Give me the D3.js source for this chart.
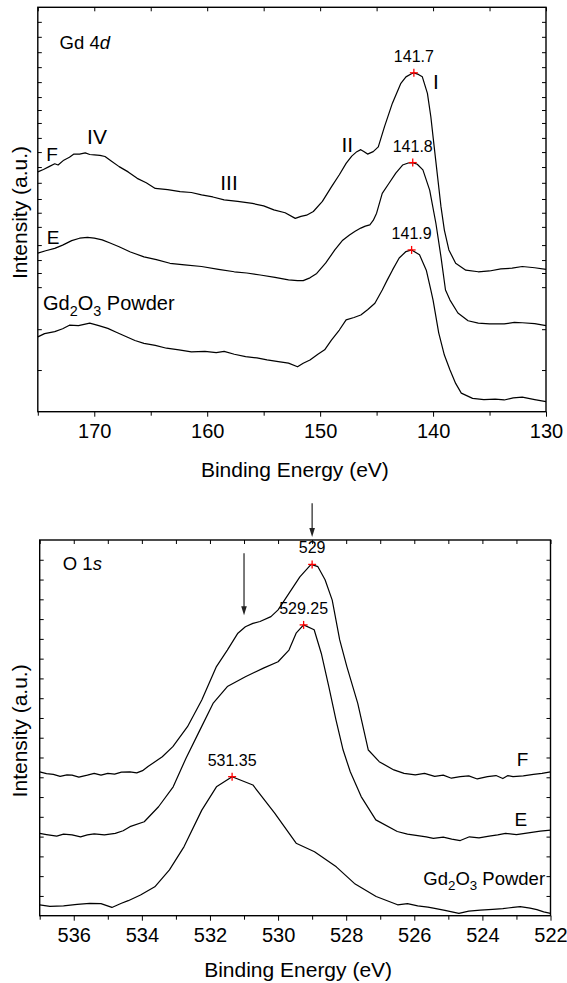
<!DOCTYPE html>
<html><head><meta charset="utf-8">
<script src="https://cdn.jsdelivr.net/npm/d3@7/dist/d3.min.js"></script>
<style>body{margin:0;background:#fff}svg{display:block}</style>
</head><body>
<script>
// ---------- Gd 4d panel data: [binding energy (eV), intensity (a.u.)] ----------
const gd4dF = [[175.0,59.3],[174.5,59.9],[174.0,60.6],[173.5,61.3],[173.2,61.0],[172.7,62.2],[172.2,62.9],[171.8,63.7],[171.3,63.7],[170.8,64.0],[170.4,63.6],[170.0,63.5],[169.5,63.4],[169.05,63.1],[168.5,62.0],[167.8,60.6],[167.0,59.3],[166.2,57.7],[165.4,56.6],[164.6,55.2],[163.5,54.9],[162.4,54.4],[161.4,54.2],[160.5,53.6],[159.5,53.1],[158.5,52.4],[157.3,52.0],[156.0,51.5],[155.0,50.9],[154.1,49.9],[153.1,49.2],[152.2,47.8],[151.7,48.3],[151.2,48.6],[150.6,49.5],[149.8,52.0],[149.0,55.6],[148.3,58.6],[147.7,61.4],[147.2,63.2],[146.75,64.3],[146.4,64.8],[146.1,64.3],[145.8,63.7],[145.3,64.3],[144.85,65.5],[144.3,70.5],[143.6,76.3],[142.85,81.2],[142.4,82.8],[141.95,83.5],[141.7,83.8],[141.3,83.4],[140.95,82.8],[140.5,78.7],[140.2,73.0],[139.9,65.5],[139.6,58.1],[139.3,50.7],[139.0,44.9],[138.6,40.0],[138.0,36.7],[137.1,35.0],[136.0,34.6],[135.0,34.8],[134.0,35.3],[133.0,35.5],[132.1,35.9],[131.0,35.6],[130.0,35.2]];
const gd4dE = [[175.0,39.2],[174.3,39.8],[173.5,40.4],[172.8,41.2],[172.0,42.3],[171.3,42.9],[170.6,43.1],[170.0,42.9],[169.3,42.5],[168.6,41.7],[167.8,40.8],[166.8,39.5],[165.6,38.3],[164.5,37.6],[163.3,36.7],[162.0,36.3],[160.5,35.9],[159.0,35.2],[157.6,34.6],[156.5,34.3],[155.3,33.8],[154.0,33.2],[152.8,32.6],[152.0,32.4],[151.5,32.4],[150.9,33.1],[150.3,34.2],[149.5,36.8],[148.7,40.0],[148.0,42.4],[147.4,43.7],[146.9,44.6],[146.4,45.4],[146.0,45.9],[145.6,46.2],[145.3,47.3],[145.0,49.1],[144.5,54.0],[143.9,56.5],[143.3,59.0],[142.7,61.0],[142.2,61.5],[141.8,61.6],[141.4,61.2],[140.9,59.8],[140.3,54.8],[139.75,46.6],[139.3,38.3],[138.9,30.1],[138.5,27.6],[137.8,24.4],[136.9,22.5],[136.0,21.9],[135.0,21.7],[133.7,21.7],[132.8,22.1],[132.1,22.0],[131.0,21.8],[130.0,21.3]];
const gd4dPowder = [[175.0,18.5],[174.4,19.3],[173.5,19.8],[172.8,20.5],[172.2,21.4],[171.4,21.3],[170.4,21.9],[169.6,21.3],[168.8,20.6],[168.0,19.6],[167.2,18.6],[166.4,17.6],[165.6,16.9],[164.6,16.4],[163.6,15.7],[162.5,15.3],[161.4,14.8],[160.2,14.9],[159.2,14.6],[158.5,14.9],[157.6,14.2],[156.6,13.6],[155.6,13.3],[154.7,12.8],[153.7,12.4],[152.8,12.0],[152.0,11.1],[151.5,12.0],[150.9,12.8],[150.2,14.2],[149.6,15.3],[149.0,17.7],[148.3,20.2],[147.7,22.7],[147.0,23.3],[146.4,23.9],[145.8,25.2],[145.15,26.8],[144.5,30.1],[144.05,32.6],[143.6,35.0],[143.0,38.0],[142.4,39.6],[141.9,40.0],[141.2,38.8],[140.6,35.0],[140.2,30.1],[140.0,27.6],[139.5,19.5],[139.0,14.0],[138.5,10.3],[138.0,7.0],[137.5,4.6],[136.5,3.3],[135.5,3.0],[134.5,3.1],[133.7,2.9],[132.9,3.4],[132.1,3.6],[131.0,3.0],[130.0,2.5]];
const gd4dPeakE = [141.7, 141.8, 141.9];
const gd4dPeakI = [83.8, 61.6, 40.0];
const gd4dPeakLabels = ["141.7", "141.8", "141.9"];
const gd4dXMajor = [170, 160, 150, 140, 130];
const gd4dXMinor = [175, 165, 155, 145, 135];
const gd4dYTicks = [10.3, 20.4, 30.8, 34.3, 37.5, 41.2, 45.7, 49.2, 52.6, 56.6, 60.5, 64.2, 67.7, 71.4, 74.6, 77.8, 81.5, 85.2, 88.9, 92.7, 96.4];

// ---------- O 1s panel data ----------
const o1sF = [[537.0,38.3],[536.8,37.8],[536.6,37.6],[536.4,37.1],[536.2,37.5],[536.05,37.4],[535.85,36.9],[535.6,37.4],[535.4,37.9],[535.2,37.4],[535.0,37.9],[534.8,37.7],[534.6,38.2],[534.35,38.3],[534.15,38.0],[533.98,38.6],[533.82,39.7],[533.4,42.3],[533.09,45.0],[532.66,50.3],[532.24,57.4],[531.81,66.3],[531.49,70.7],[531.18,75.2],[530.96,76.9],[530.74,77.8],[530.53,78.3],[530.21,79.6],[530.0,81.4],[529.68,85.8],[529.36,90.2],[529.03,93.5],[528.83,92.9],[528.62,89.4],[528.41,84.0],[528.19,73.4],[527.98,66.3],[527.66,56.5],[527.35,44.1],[527.03,41.0],[526.6,38.8],[526.3,37.9],[525.97,37.5],[525.7,37.9],[525.4,37.1],[525.15,37.4],[524.91,36.6],[524.65,37.0],[524.4,37.2],[524.15,36.4],[523.85,37.0],[523.6,37.3],[523.4,36.5],[523.25,37.3],[523.1,37.0],[522.8,37.2],[522.5,37.6],[522.25,37.9],[522.0,38.3]];
const o1sE = [[537.0,21.9],[536.8,21.6],[536.5,21.2],[536.3,21.7],[536.05,21.5],[535.8,21.0],[535.6,21.5],[535.4,21.8],[535.1,21.5],[534.78,21.9],[534.55,22.6],[534.35,23.7],[533.93,25.0],[533.51,29.0],[533.08,34.3],[532.7,42.0],[532.34,48.6],[531.91,56.5],[531.49,61.0],[530.96,63.6],[530.43,65.9],[530.0,67.6],[529.68,70.7],[529.47,75.2],[529.25,77.4],[528.94,76.1],[528.73,69.8],[528.51,61.0],[528.3,52.1],[528.09,44.1],[527.88,38.3],[527.56,31.7],[527.13,25.5],[526.5,22.4],[526.2,21.7],[525.9,21.3],[525.65,21.0],[525.44,20.6],[525.15,20.9],[524.9,20.4],[524.65,20.0],[524.38,21.0],[524.1,20.7],[523.8,21.2],[523.55,21.5],[523.32,21.9],[523.0,21.6],[522.6,22.1],[522.3,22.5],[522.0,22.8]];
const o1sPowder = [[537.0,2.9],[536.7,2.5],[536.3,2.6],[535.9,3.0],[535.53,3.3],[535.2,3.2],[534.88,2.2],[534.6,3.3],[534.4,4.0],[534.04,5.5],[533.62,7.7],[533.19,12.2],[532.76,18.4],[532.24,28.1],[531.81,34.3],[531.35,37.0],[530.74,34.8],[530.1,27.3],[529.47,19.3],[528.93,17.0],[528.29,13.0],[527.76,8.6],[527.12,5.1],[526.49,2.9],[526.2,3.2],[525.9,2.6],[525.6,2.3],[525.44,2.0],[525.1,1.4],[524.69,0.6],[524.4,1.2],[524.06,1.5],[523.7,1.7],[523.4,1.9],[523.1,2.2],[522.89,2.4],[522.6,2.0],[522.4,1.6],[522.2,1.0],[522.0,0.6]];
const o1sPeakE = [529.0, 529.25, 531.35];
const o1sPeakI = [93.5, 77.4, 37.0];
const o1sPeakLabels = ["529", "529.25", "531.35"];
const o1sArrowE = [529.0, 531.0];
const o1sArrowFromI = [109.8, 96.5];
const o1sArrowToI = [100.8, 80.0];
const o1sXMajor = [536, 534, 532, 530, 528, 526, 524, 522];
const o1sXMinor = [537, 535, 533, 531, 529, 527, 525, 523];
const o1sYTicks = [5.26, 10.53, 15.79, 21.05, 26.32, 31.58, 36.84, 42.11, 47.37, 52.63, 57.89, 63.16, 68.42, 73.68, 78.95, 84.21, 89.47, 94.74];

// ---------- drawing ----------
const FONT = "Arial, 'Liberation Sans', Helvetica, sans-serif";
const svg = d3.select("body").append("svg").attr("width", 567).attr("height", 983)
  .style("font-family", FONT);

function txt(g, x, y, s, size, anchor) {
  return g.append("text").attr("x", x).attr("y", y).attr("font-size", size)
    .attr("text-anchor", anchor || "middle").attr("fill", "#000").text(s);
}
function gdo(g, x, y, size, anchor) {
  const t = g.append("text").attr("x", x).attr("y", y).attr("font-size", size)
    .attr("text-anchor", anchor || "start").attr("fill", "#000");
  t.append("tspan").text("Gd");
  t.append("tspan").attr("font-size", size * 0.72).attr("dy", size * 0.3).text("2");
  t.append("tspan").attr("dy", -size * 0.3).text("O");
  t.append("tspan").attr("font-size", size * 0.72).attr("dy", size * 0.3).text("3");
  t.append("tspan").attr("dy", -size * 0.3).text(" Powder");
  return t;
}

function drawPanel(opt) {
  const x = d3.scaleLinear().domain(opt.xDomain).range([opt.L, opt.R]);
  const y = d3.scaleLinear().domain([0, 100]).range([opt.B, opt.T]);
  const g = svg.append("g");
  const line = d3.line().x(d => x(d[0])).y(d => y(d[1]));
  opt.series.forEach(s => {
    g.append("path").datum(s).attr("d", line).attr("fill", "none")
      .attr("stroke", "#000").attr("stroke-width", 1.2).attr("stroke-linejoin", "round");
  });
  const fmt = d3.format("d");
  const bx = g.append("g").attr("transform", `translate(0,${opt.B})`)
    .call(d3.axisBottom(x).tickValues(opt.xMajor).tickSize(5).tickPadding(7).tickFormat(fmt));
  bx.selectAll("text").attr("font-size", 20).attr("font-family", FONT).attr("fill", "#000");
  const bxm = g.append("g").attr("transform", `translate(0,${opt.B})`)
    .call(d3.axisBottom(x).tickValues(opt.xMinor).tickSize(4).tickFormat(""));
  const tx = g.append("g").attr("transform", `translate(0,${opt.T})`)
    .call(d3.axisBottom(x).tickValues(opt.xMajor.concat(opt.xMinor)).tickSize(4).tickFormat(""));
  const ly = g.append("g").attr("transform", `translate(${opt.L},0)`)
    .call(d3.axisRight(y).tickValues(opt.yTicks).tickSize(4).tickFormat(""));
  const ry = g.append("g").attr("transform", `translate(${opt.R},0)`)
    .call(d3.axisLeft(y).tickValues(opt.yTicks).tickSize(4).tickFormat(""));
  [bx, bxm, tx, ly, ry].forEach(a => {
    a.select(".domain").remove();
    a.selectAll("line").attr("stroke", "#000").attr("stroke-width", 1);
  });
  g.append("rect").attr("x", opt.L).attr("y", opt.T).attr("width", opt.R - opt.L)
    .attr("height", opt.B - opt.T).attr("fill", "none").attr("stroke", "#000").attr("stroke-width", 1.4);
  txt(g, (opt.L + opt.R) / 2 + 3, opt.titleY, "Binding Energy (eV)", 21);
  g.append("text").attr("transform", `translate(27,${(opt.T + opt.B) / 2 + 3}) rotate(-90)`)
    .attr("text-anchor", "middle").attr("font-size", 21).attr("fill", "#000").text("Intensity (a.u.)");
  opt.peakE.forEach((e, i) => {
    const px = x(e), py = y(opt.peakI[i]);
    g.append("line").attr("x1", px - 4).attr("x2", px + 4).attr("y1", py).attr("y2", py)
      .attr("stroke", "#ff0000").attr("stroke-width", 1.3);
    g.append("line").attr("x1", px).attr("x2", px).attr("y1", py - 4).attr("y2", py + 4)
      .attr("stroke", "#ff0000").attr("stroke-width", 1.3);
    txt(g, px, py - 11, opt.peakLabels[i], 16);
  });
  return { g, x, y };
}

// Panel 1: Gd 4d
const p1 = drawPanel({
  xDomain: [175, 130], L: 37.8, R: 546, T: 7.3, B: 411.7, titleY: 477,
  series: [gd4dF, gd4dE, gd4dPowder], xMajor: gd4dXMajor, xMinor: gd4dXMinor, yTicks: gd4dYTicks,
  peakE: gd4dPeakE, peakI: gd4dPeakI, peakLabels: gd4dPeakLabels
});
{
  const { g, x, y } = p1;
  const t = g.append("text").attr("x", x(173.07)).attr("y", y(89.7)).attr("font-size", 18.5).attr("fill", "#000");
  t.append("tspan").text("Gd 4");
  t.append("tspan").attr("font-style", "italic").text("d");
  txt(g, x(139.74), y(79.7), "I", 21);
  txt(g, x(147.6), y(64.3), "II", 21);
  txt(g, x(158.07), y(54.9), "III", 21);
  txt(g, x(169.76), y(66.3), "IV", 21);
  txt(g, x(173.74), y(62.0), "F", 19);
  txt(g, x(173.65), y(41.5), "E", 19);
  gdo(g, x(174.54), y(25.1), 20, "start");
}

// Panel 2: O 1s
const p2 = drawPanel({
  xDomain: [537, 522], L: 39.7, R: 550.5, T: 540, B: 915.7, titleY: 977,
  series: [o1sF, o1sE, o1sPowder], xMajor: o1sXMajor, xMinor: o1sXMinor, yTicks: o1sYTicks,
  peakE: o1sPeakE, peakI: o1sPeakI, peakLabels: o1sPeakLabels
});
{
  const { g, x, y } = p2;
  const t = g.append("text").attr("x", x(536.32)).attr("y", y(92.1)).attr("font-size", 18.5).attr("fill", "#000");
  t.append("tspan").text("O 1");
  t.append("tspan").attr("font-style", "italic").text("s");
  txt(g, x(522.82), y(39.8), "F", 19);
  txt(g, x(522.87), y(23.9), "E", 19);
  gdo(g, x(522.16), y(8.2), 18.5, "end");
  o1sArrowE.forEach((e, i) => {
    const ax = x(e), y0 = y(o1sArrowFromI[i]), y1 = y(o1sArrowToI[i]);
    g.append("line").attr("x1", ax).attr("x2", ax).attr("y1", y0).attr("y2", y1 - 7)
      .attr("stroke", "#222").attr("stroke-width", 1.2);
    g.append("path").attr("d", `M${ax - 2.8},${y1 - 9} L${ax + 2.8},${y1 - 9} L${ax},${y1} Z`)
      .attr("fill", "#222");
  });
}
</script>
</body></html>
